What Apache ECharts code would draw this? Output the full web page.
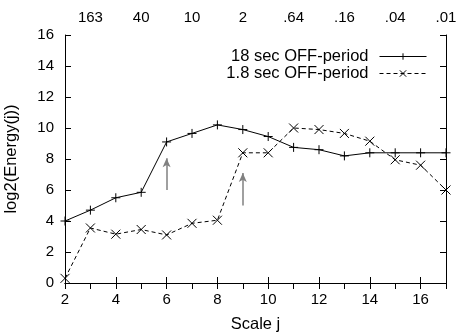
<!DOCTYPE html>
<html>
<head>
<meta charset="utf-8">
<script src="https://cdn.jsdelivr.net/npm/echarts@6/dist/echarts.min.js"></script>
<style>
  html, body { margin: 0; padding: 0; background: #fff; }
  #chart { width: 458px; height: 335px; }
</style>
</head>
<body>
<div id="chart"></div>
<script>
// scale index j
const scales = [2, 3, 4, 5, 6, 7, 8, 9, 10, 11, 12, 13, 14, 15, 16, 17];
const off18 = [4.0, 4.7, 5.5, 5.85, 9.1, 9.65, 10.2, 9.9, 9.45, 8.75, 8.6, 8.2, 8.4, 8.4, 8.4, 8.4];
const off18short = [0.3, 3.55, 3.15, 3.45, 3.1, 3.85, 4.05, 8.4, 8.4, 10.0, 9.9, 9.65, 9.15, 7.95, 7.6, 6.0];
// top axis: time scale labels at odd j
const topTicks = [3, 5, 7, 9, 11, 13, 15, 17];
const topLabels = ['163', '40', '10', '2', '.64', '.16', '.04', '.01'];
// arrows [x, yFrom, yTo]
const arrows = [[6, 6.0, 8.05], [9, 5.0, 7.1]];

const font = 'Liberation Sans, Arial, sans-serif';
const plusPath = 'path://M0,5L10,5M5,0L5,10';
const crossPath = 'path://M0,0L10,10M10,0L0,10';

const chart = echarts.init(document.getElementById('chart'), null, { renderer: 'canvas' });

const inTick = { show: true, inside: true, length: 6, lineStyle: { color: '#000', width: 1 } };
const line = { show: true, lineStyle: { color: '#000', width: 1 } };
const tickFont = { fontSize: 15, color: '#000', fontFamily: font };
const nameFont = { fontSize: 16.5, color: '#000', fontFamily: font };

const option = {
  animation: false,
  backgroundColor: '#fff',
  textStyle: { fontFamily: font },
  grid: { left: 65, right: 12, top: 35, bottom: 52, containLabel: false, outerBoundsMode: 'none' },
  legend: {
    orient: 'vertical',
    right: 26,
    top: 43,
    align: 'right',
    itemWidth: 47,
    itemHeight: 8,
    itemGap: 0,
    lineStyle: { width: 1 },
    itemStyle: { borderWidth: 1 },
    textStyle: Object.assign({}, nameFont, { padding: [0, 6, 0, 0] }),
    data: ['18 sec OFF-period', '1.8 sec OFF-period']
  },
  xAxis: [
    {
      type: 'value', min: 2, max: 17, interval: 2, position: 'bottom',
      name: 'Scale j', nameLocation: 'middle', nameGap: 33,
      nameTextStyle: nameFont,
      axisLine: line, axisTick: inTick,
      axisLabel: Object.assign({}, tickFont, {
        margin: 9,
        formatter: v => (v % 2 === 0 && v <= 16 ? String(v) : '')
      }),
      splitLine: { show: false }
    },
    {
      type: 'value', min: 2, max: 17, interval: 1, position: 'top',
      axisLine: line, axisTick: inTick,
      axisLabel: Object.assign({}, tickFont, {
        margin: 10,
        formatter: v => {
          const i = topTicks.indexOf(v);
          return i >= 0 ? topLabels[i] : '';
        }
      }),
      splitLine: { show: false }
    }
  ],
  yAxis: [
    {
      type: 'value', min: 0, max: 16, interval: 2, position: 'left',
      name: 'log2(Energy(j))', nameLocation: 'middle', nameGap: 45,
      nameTextStyle: nameFont,
      axisLine: line, axisTick: inTick,
      axisLabel: Object.assign({}, tickFont, { margin: 11 }),
      splitLine: { show: false }
    },
    {
      type: 'value', min: 0, max: 16, interval: 2, position: 'right',
      axisLine: line, axisTick: inTick,
      axisLabel: { show: false },
      splitLine: { show: false }
    }
  ],
  series: [
    {
      name: '18 sec OFF-period',
      type: 'line',
      data: scales.map((x, i) => [x, off18[i]]),
      symbol: plusPath,
      symbolSize: 9,
      lineStyle: { color: '#000', width: 1 },
      itemStyle: { color: '#000', borderColor: '#000', borderWidth: 1 },
      markLine: {
        silent: true,
        symbol: ['none', 'arrow'],
        symbolSize: [6, 9],
        label: { show: false },
        lineStyle: { color: '#808080', width: 1.5, type: 'solid' },
        data: arrows.map(a => [{ coord: [a[0], a[1]] }, { coord: [a[0], a[2]] }])
      }
    },
    {
      name: '1.8 sec OFF-period',
      type: 'line',
      data: scales.map((x, i) => [x, off18short[i]]),
      symbol: crossPath,
      symbolSize: 9,
      lineStyle: { color: '#000', width: 1, type: [4, 3] },
      itemStyle: { color: '#000', borderColor: '#000', borderWidth: 1 }
    }
  ]
};

chart.setOption(option);
window.addEventListener('resize', () => chart.resize());
</script>
</body>
</html>
